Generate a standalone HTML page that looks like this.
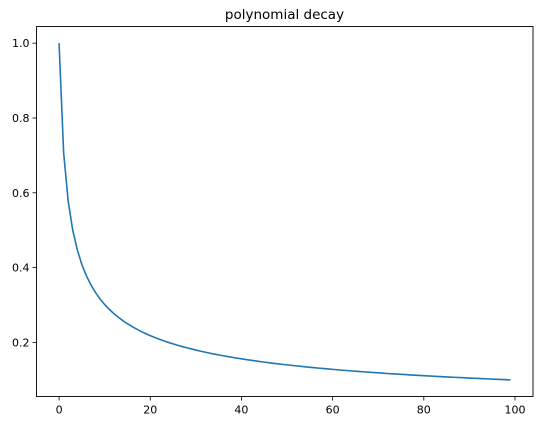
<!DOCTYPE html>
<html><head><meta charset="utf-8"><style>body{margin:0;background:#fff}svg{display:block;font-family:"DejaVu Sans","Liberation Sans",sans-serif}</style></head>
<body>
<svg id="chart" width="539" height="421">
<rect x="0" y="0" width="539" height="421" fill="#fff"/>
<text x="284.5" y="19" font-size="13.5" text-anchor="middle">polynomial decay</text>
<g id="ticks"></g>
<path id="line" fill="none" stroke="#1f77b4" stroke-width="1.6"/>
<rect x="36.5" y="26.5" width="496.5" height="370" fill="none" stroke="#000" stroke-width="0.9"/>
</svg>
<script>
const xTicks=[0,20,40,60,80,100];
const yTicks=[0.2,0.4,0.6,0.8,1.0];
const yTickLabels=["0.2","0.4","0.6","0.8","1.0"];
const values=[1,.7071,.5774,.5,.4472,.4082,.378,.3536,.3333,.3162,.3015,.2887,.2774,.2673,.2582,.25,.2425,.2357,.2294,.2236,.2182,.2132,.2085,.2041,.2,.1961,.1925,.189,.1857,.1826,.1796,.1768,.1741,.1715,.169,.1667,.1644,.1622,.1601,.1581,.1562,.1543,.1525,.1508,.1491,.1474,.1459,.1443,.1429,.1414,.14,.1387,.1374,.1361,.1348,.1336,.1325,.1313,.1302,.1291,.128,.127,.126,.125,.124,.1231,.1222,.1213,.1204,.1195,.1187,.1179,.117,.1162,.1155,.1147,.114,.1132,.1125,.1118,.1111,.1104,.1098,.1091,.1085,.1078,.1072,.1066,.106,.1054,.1048,.1043,.1037,.1031,.1026,.1021,.1015,.101,.1005,.1];
const X0=36.5,X1=533,Y0=396.5,Y1=26.5,xmin=-4.95,xmax=103.95,ymin=0.0555,ymax=1.0445;
const xs=v=>X0+(v-xmin)/(xmax-xmin)*(X1-X0);
const ys=v=>Y0-(v-ymin)/(ymax-ymin)*(Y0-Y1);
const NS="http://www.w3.org/2000/svg";
const g=document.getElementById('ticks');
function mk(t,a){const e=document.createElementNS(NS,t);for(const k in a)e.setAttribute(k,a[k]);g.appendChild(e);return e;}
xTicks.forEach(t=>{const x=xs(t);
 const l=mk('line',{x1:x,x2:x,y1:Y0,y2:Y0+4,stroke:'#000','stroke-width':0.8});
 
 
 const tx=mk('text',{x:x,y:Y0+17,'font-size':11,'text-anchor':'middle'});tx.textContent=t;
 
 });
yTicks.forEach((t,i)=>{const y=ys(t);
 const l=mk('line',{x1:X0-4,x2:X0,y1:y,y2:y,stroke:'#000','stroke-width':0.8});
 
 
 const tx=mk('text',{x:X0-7,y:y+4,'font-size':11,'text-anchor':'end'});tx.textContent=yTickLabels[i];
 
 });
document.getElementById('line').setAttribute('d',values.map((v,i)=>(i?'L':'M')+xs(i).toFixed(2)+','+ys(v).toFixed(2)).join(''));
</script>
</body></html>
